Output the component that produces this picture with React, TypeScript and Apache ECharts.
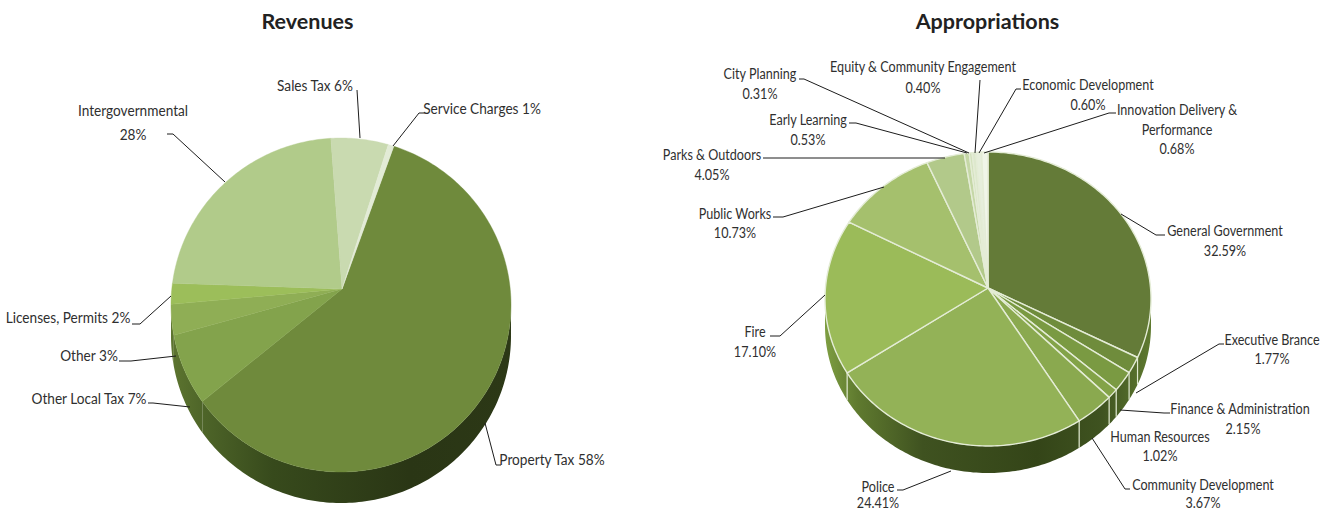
import React, { useEffect, useRef } from "react";
import * as echarts from "echarts";

// ---------- data ----------
const revenueNames = ["Property Tax", "Other Local Tax", "Other", "Licenses, Permits", "Intergovernmental", "Sales Tax", "Service Charges"];
const revenueLabels = ["58%", "7%", "3%", "2%", "28%", "6%", "1%"];
// shares as drawn in the picture (the printed labels sum to 105%)
const revenueShares = [58.6, 6.6, 2.9, 2.0, 23.3, 6.0, 0.6];

const appropriationNames = ["General Government", "Executive Brance", "Finance & Administration", "Human Resources", "Community Development", "Police", "Fire", "Public Works", "Parks & Outdoors", "Early Learning", "City Planning", "Equity & Community Engagement", "Economic Development", "Innovation Delivery & Performance"];
const appropriationValues = [32.59, 1.77, 2.15, 1.02, 3.67, 24.41, 17.1, 10.73, 4.05, 0.53, 0.31, 0.4, 0.6, 0.68];

// ---------- styling and layout ----------
const FONT = "Lato";
const INK = "#2f2f2f";
const revenueColors = ["#6f8a3c", "#83a34c", "#8fae55", "#9cbe5a", "#b1cb8a", "#c9dab0", "#e2ebd6"];
const appropriationColors = ["#647b38", "#6f8c3c", "#7a9a42", "#83a348", "#8aa94f", "#93b257", "#9bbb59", "#a5c06d", "#b2c98a", "#c5d7a6", "#d3e1bd", "#dde8cd", "#e6eedb", "#f0f5e8"];

type Geo = { ax: number; ay: number; cx: number; cy: number; rx: number; ry: number; depth: number; k: number; start: number };
const leftGeo: Geo = { ax: 342, ay: 289, cx: 341, cy: 305, rx: 170, ry: 167, depth: 31, k: 0.98, start: 19.6 };
const rightGeo: Geo = { ax: 988, ay: 288, cx: 988, cy: 299, rx: 163, ry: 147, depth: 27, k: 0.9, start: 0 };

function rim(g: Geo, deg: number): number[] {
  const th = (deg * Math.PI) / 180;
  const dx = Math.sin(th);
  const dy = -Math.cos(th) * g.k;
  const ox = (g.ax - g.cx) / g.rx, oy = (g.ay - g.cy) / g.ry;
  const ux = dx / g.rx, uy = dy / g.ry;
  const a = ux * ux + uy * uy, b = 2 * (ox * ux + oy * uy), c = ox * ox + oy * oy - 1;
  const t = (-b + Math.sqrt(b * b - 4 * a * c)) / (2 * a);
  return [g.ax + t * dx, g.ay + t * dy];
}

function arcPoints(g: Geo, from: number, to: number): number[][] {
  const n = Math.max(2, Math.ceil(to - from) + 1);
  const pts: number[][] = [];
  for (let i = 0; i <= n; i++) pts.push(rim(g, from + ((to - from) * i) / n));
  return pts;
}

function pieSeries(values: number[], colors: string[], g: Geo, wallStops: [number, string][], separators: boolean, edge: string | null) {
  const total = values.reduce((s, v) => s + v, 0);
  const bounds: number[] = [];
  let acc = 0;
  values.forEach((v) => { bounds.push((acc / total) * 360 + g.start); acc += v; });
  bounds.push(360 + g.start);
  const data = values.map((v) => [v]);
  const wallFill = new echarts.graphic.LinearGradient(g.cx - g.rx, 0, g.cx + g.rx, 0,
    wallStops.map(([offset, color]) => ({ offset, color })), true);

  const walls = {
    type: "custom", coordinateSystem: "none", silent: true, data, z: 2,
    renderItem: (p: any) => {
      const i = p.dataIndex;
      const lower = arcPoints(g, bounds[i], bounds[i + 1]).filter((q) => q[1] >= g.cy);
      if (lower.length < 2) return { type: "group", children: [] };
      const pts = [...lower, ...lower.slice().reverse().map((q) => [q[0], q[1] + g.depth])];
      const children: any[] = [{ type: "polygon", shape: { points: pts }, style: { fill: wallFill } }];
      if (separators) {
        const q = rim(g, bounds[i]);
        if (q[1] >= g.cy) children.push({ type: "line", shape: { x1: q[0], y1: q[1], x2: q[0], y2: q[1] + g.depth }, style: { stroke: "#dfe8cf", lineWidth: 1.2 } });
      }
      return { type: "group", children };
    },
  };
  const tops = {
    type: "custom", coordinateSystem: "none", silent: true, data, z: 3,
    renderItem: (p: any) => {
      const i = p.dataIndex;
      const pts = [[g.ax, g.ay], ...arcPoints(g, bounds[i], bounds[i + 1])];
      return {
        type: "polygon", shape: { points: pts },
        style: edge ? { fill: colors[i], stroke: edge, lineWidth: 1.4, lineJoin: "round" } : { fill: colors[i], stroke: colors[i], lineWidth: 0.4 },
      };
    },
  };
  return [walls, tops];
}

// text lines: [text, centre x, centre y]; leaders: polylines
const leftTextLines: [string, number, number][] = [
  [`${revenueNames[5]} ${revenueLabels[5]}`, 315, 85],
  [`${revenueNames[6]} ${revenueLabels[6]}`, 482, 108],
  [revenueNames[4], 133, 110],
  [revenueLabels[4], 133, 134],
  [`${revenueNames[3]} ${revenueLabels[3]}`, 68, 317],
  [`${revenueNames[2]} ${revenueLabels[2]}`, 89, 355],
  [`${revenueNames[1]} ${revenueLabels[1]}`, 89, 398],
  [`${revenueNames[0]} ${revenueLabels[0]}`, 552, 459],
];
const rightTextLines: [string, number, number][] = [
  [appropriationNames[10], 760, 73],
  [`${appropriationValues[10].toFixed(2)}%`, 760, 93],
  [appropriationNames[11], 923, 66],
  [`${appropriationValues[11].toFixed(2)}%`, 923, 87],
  [appropriationNames[12], 1088, 84],
  [`${appropriationValues[12].toFixed(2)}%`, 1088, 104],
  ["Innovation Delivery &", 1177, 109],
  ["Performance", 1177, 129],
  [`${appropriationValues[13].toFixed(2)}%`, 1177, 148],
  [appropriationNames[9], 808, 119],
  [`${appropriationValues[9].toFixed(2)}%`, 808, 139],
  [appropriationNames[8], 712, 154],
  [`${appropriationValues[8].toFixed(2)}%`, 712, 174],
  [appropriationNames[7], 735, 213],
  [`${appropriationValues[7].toFixed(2)}%`, 735, 232],
  [appropriationNames[0], 1225, 230],
  [`${appropriationValues[0].toFixed(2)}%`, 1225, 250],
  [appropriationNames[6], 755, 331],
  [`${appropriationValues[6].toFixed(2)}%`, 755, 351],
  [appropriationNames[1], 1272, 339],
  [`${appropriationValues[1].toFixed(2)}%`, 1272, 358],
  [appropriationNames[2], 1240, 408],
  [`${appropriationValues[2].toFixed(2)}%`, 1243, 428],
  [appropriationNames[3], 1160, 436],
  [`${appropriationValues[3].toFixed(2)}%`, 1160, 455],
  [appropriationNames[4], 1203, 484],
  [`${appropriationValues[4].toFixed(2)}%`, 1203, 502],
  [appropriationNames[5], 878, 486],
  [`${appropriationValues[5].toFixed(2)}%`, 878, 502.5],
];

const leaders: number[][][] = [
  [[357, 90], [360, 138]],
  [[425, 113], [419, 113], [393, 146]],
  [[167, 134], [173, 134], [225, 182]],
  [[132, 324], [140, 324], [171, 296]],
  [[119, 361], [131, 361], [176, 356]],
  [[148, 403], [153, 403], [190, 407]],
  [[485, 423], [496, 465], [501, 465]],

  [[799, 79], [804, 79], [969, 153]],
  [[980, 80], [975, 153]],
  [[1021, 89], [1016, 89], [979, 153]],
  [[1116, 113], [1109, 113], [984, 153]],
  [[849, 123], [856, 123], [967, 153]],
  [[763, 158], [945, 158]],
  [[773, 217], [783, 217], [884, 187]],
  [[1121, 214], [1156, 235], [1165, 235]],
  [[770, 336], [780, 336], [825, 295]],
  [[1224, 344], [1219, 344], [1136, 393]],
  [[1170, 413], [1164, 413], [1120, 410]],
  [[1092, 438], [1125, 489], [1130, 489]],
  [[897, 490], [903, 490], [951, 471]],
];

function textElements(lines: [string, number, number][], scaleX: number) {
  return lines.map(([text, x, y]) => ({
    type: "text", z: 11, silent: true, x, y, scaleX,
    style: { text, fontFamily: FONT, fontSize: 15, fill: INK, align: "center", verticalAlign: "middle" },
  }));
}

export default function App() {
  const ref = useRef<HTMLDivElement>(null);
  useEffect(() => {
    const chart = echarts.init(ref.current!, undefined, { renderer: "svg" });
    const graphics: any[] = [
      ...leaders.map((pts) => ({ type: "polyline", z: 10, silent: true, shape: { points: pts }, style: { stroke: "#1c1c1c", lineWidth: 1, fill: null } })),
      ...textElements(leftTextLines, 0.91),
      ...textElements(rightTextLines, 0.84),
    ];
    chart.setOption({
      animation: false,
      backgroundColor: "#ffffff",
      title: [
        { text: "Revenues", left: 302.5, top: 16, textAlign: "center", textVerticalAlign: "middle", textStyle: { fontFamily: FONT, fontSize: 21.5, fontWeight: "bold", color: "#222" } },
        { text: "Appropriations", left: 982.5, top: 16, textAlign: "center", textVerticalAlign: "middle", textStyle: { fontFamily: FONT, fontSize: 21.5, fontWeight: "bold", color: "#222" } },
      ],
      graphic: { elements: graphics },
      series: [
        ...pieSeries(revenueShares, revenueColors, leftGeo,
          [[0, "#5d7530"], [0.1, "#4d6428"], [0.3, "#374a1c"], [0.7, "#2a3615"], [1, "#2c3816"]], false, null),
        ...pieSeries(appropriationValues, appropriationColors, rightGeo,
          [[0, "#7e9e42"], [0.1, "#5f7a2f"], [0.3, "#3f5220"], [0.65, "#344518"], [0.85, "#3f5320"], [1, "#5f7a30"]], true, "#e4ecd6"),
      ],
    });
    return () => chart.dispose();
  }, []);
  return <div ref={ref} style={{ position: "absolute", left: 0, top: 0, width: 1335, height: 512 }} />;
}
